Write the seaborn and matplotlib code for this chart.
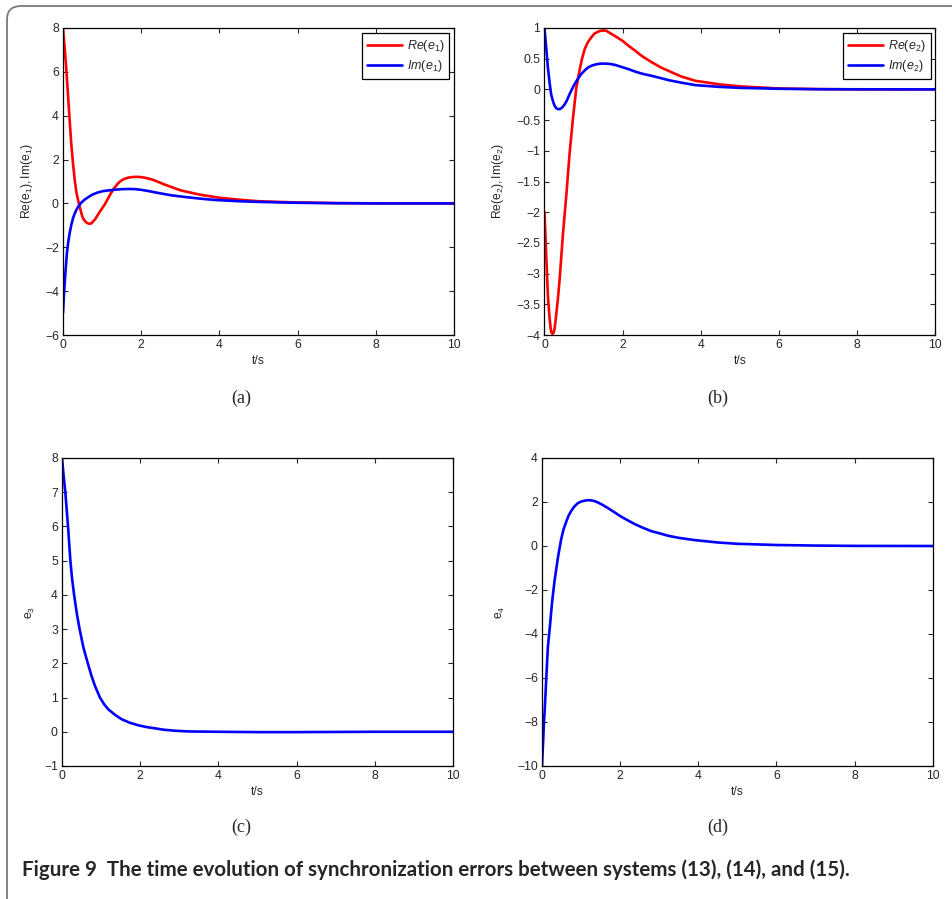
import numpy as np
import pandas as pd
import matplotlib
matplotlib.use("Agg")
import matplotlib.pyplot as plt
from matplotlib.ticker import FuncFormatter
from matplotlib.patches import FancyBboxPatch
import seaborn as sns

# ---------------- data ----------------
a_t_re = [0, 0.04, 0.085, 0.13, 0.17, 0.21, 0.255, 0.30, 0.34, 0.385, 0.425, 0.47, 0.51,
          0.56, 0.60, 0.64, 0.68, 0.72, 0.77, 0.83, 0.89, 0.97, 1.06, 1.15, 1.23, 1.31,
          1.40, 1.48, 1.57, 1.66, 1.75, 1.85, 1.95, 2.1, 2.3, 2.6, 3.0, 3.5, 4.0,
          4.5, 5.0, 5.5, 6.0, 7.0, 8.0, 10.0]
a_re = [8.0, 7.16, 6.1, 4.88, 3.8, 2.75, 1.84, 1.07, 0.54, 0.15, -0.14, -0.44, -0.68,
        -0.80, -0.87, -0.91, -0.93, -0.91, -0.83, -0.70, -0.52, -0.30, -0.07, 0.22, 0.48,
        0.70, 0.90, 1.03, 1.12, 1.17, 1.2, 1.21, 1.21, 1.17, 1.08, 0.86, 0.6, 0.4, 0.26,
        0.17, 0.1, 0.07, 0.045, 0.015, 0.005, 0.0]
a_t_im = [0, 0.026, 0.06, 0.10, 0.135, 0.17, 0.21, 0.255, 0.30, 0.34, 0.40, 0.47, 0.55,
          0.64, 0.75, 0.89, 1.02, 1.15, 1.3, 1.49, 1.7, 1.85, 2.0, 2.17, 2.34, 2.55, 2.77,
          3.0, 3.19, 3.5, 3.87, 4.5, 5.0, 6.0, 7.0, 8.0, 10.0]
a_im = [-5.0, -4.1, -3.19, -2.27, -1.75, -1.36, -1.0, -0.68, -0.46, -0.30, -0.12, 0.04, 0.17,
        0.28, 0.40, 0.50, 0.56, 0.59, 0.62, 0.65, 0.66, 0.65, 0.62, 0.57, 0.51, 0.44, 0.37,
        0.32, 0.28, 0.22, 0.16, 0.1, 0.07, 0.03, 0.01, 0.0, 0.0]

b_t_re = [0, 0.043, 0.086, 0.13, 0.17, 0.206, 0.235, 0.26, 0.30, 0.345, 0.39, 0.47, 0.56,
          0.64, 0.73, 0.815, 0.90, 0.96, 1.03, 1.11, 1.20, 1.28, 1.37, 1.44, 1.50, 1.58,
          1.67, 1.8, 2.0, 2.15, 2.32, 2.5, 2.75, 3.0, 3.18, 3.5, 3.86, 4.5, 5.0, 6.0, 7.0,
          8.0, 10.0]
b_re = [-2.0, -2.69, -3.35, -3.73, -3.95, -3.98, -3.96, -3.89, -3.67, -3.40, -3.07, -2.37,
        -1.71, -1.06, -0.46, 0.03, 0.32, 0.50, 0.66, 0.77, 0.85, 0.91, 0.94, 0.955, 0.96,
        0.955, 0.92, 0.87, 0.79, 0.71, 0.63, 0.54, 0.44, 0.35, 0.30, 0.21, 0.14, 0.08,
        0.05, 0.015, 0.005, 0.0, 0.0]
b_t_im = [0, 0.043, 0.086, 0.13, 0.17, 0.215, 0.26, 0.30, 0.34, 0.40, 0.46, 0.52, 0.58,
          0.64, 0.70, 0.77, 0.85, 0.94, 1.03, 1.12, 1.22, 1.33, 1.44, 1.55, 1.67, 1.80,
          2.0, 2.15, 2.32, 2.5, 2.75, 3.0, 3.18, 3.5, 3.86, 4.5, 5.0, 6.0, 7.0, 10.0]
b_im = [1.0, 0.68, 0.36, 0.11, -0.08, -0.19, -0.27, -0.305, -0.32, -0.32, -0.29, -0.24,
        -0.17, -0.08, 0.0, 0.085, 0.17, 0.25, 0.31, 0.36, 0.39, 0.41, 0.42, 0.42, 0.415,
        0.40, 0.36, 0.33, 0.29, 0.255, 0.22, 0.18, 0.15, 0.11, 0.07, 0.04, 0.025, 0.01,
        0.003, 0.0]

c_t = [0, 0.04, 0.085, 0.154, 0.214, 0.26, 0.31, 0.38, 0.45, 0.55, 0.66, 0.75, 0.84,
       0.97, 1.08, 1.18, 1.35, 1.52, 1.72, 1.95, 2.15, 2.38, 2.6, 2.89, 3.23, 4.0, 5.0,
       6.0, 8.0, 10.0]
c_e3 = [8.0, 7.5, 7.0, 6.0, 5.0, 4.45, 4.0, 3.45, 3.0, 2.45, 2.0, 1.65, 1.35,
        1.0, 0.8, 0.66, 0.5, 0.37, 0.27, 0.19, 0.14, 0.1, 0.06, 0.03, 0.01, 0.0, -0.01,
        -0.01, 0.0, 0.0]

d_t = [0, 0.026, 0.05, 0.068, 0.11, 0.15, 0.2, 0.255, 0.32, 0.41, 0.49, 0.55, 0.62, 0.68,
       0.75, 0.83, 0.92, 1.0, 1.09, 1.16, 1.23, 1.33, 1.43, 1.55, 1.69, 1.85, 2.0, 2.18,
       2.37, 2.58, 2.79, 3.0, 3.22, 3.5, 3.9, 4.5, 5.0, 6.0, 7.0, 8.0, 10.0]
d_e4 = [-10.0, -9.0, -8.0, -7.5, -6.0, -4.6, -3.7, -2.6, -1.6, -0.5, 0.3, 0.75, 1.1, 1.38,
        1.6, 1.8, 1.95, 2.02, 2.06, 2.08, 2.08, 2.05, 1.98, 1.87, 1.72, 1.54, 1.36, 1.18,
        1.0, 0.83, 0.68, 0.58, 0.47, 0.37, 0.27, 0.16, 0.1, 0.045, 0.02, 0.005, 0.0]

x_ticks = [0, 2, 4, 6, 8, 10]
a_yticks = [-6, -4, -2, 0, 2, 4, 6, 8]
b_yticks = [-4, -3.5, -3, -2.5, -2, -1.5, -1, -0.5, 0, 0.5, 1]
c_yticks = [-1, 0, 1, 2, 3, 4, 5, 6, 7, 8]
d_yticks = [-10, -8, -6, -4, -2, 0, 2, 4]

caption = "Figure 9  The time evolution of synchronization errors between systems (13), (14), and (15)."

# ---------------- style ----------------
sns.set_style("ticks")
FS = 8.7
plt.rcParams.update({
    "font.family": ["Liberation Sans", "DejaVu Sans"],
    "mathtext.fontset": "custom",
    "mathtext.rm": "Liberation Sans",
    "mathtext.it": "Liberation Sans:italic",
    "mathtext.bf": "Liberation Sans:bold",
    "axes.linewidth": 0.9,
    "axes.edgecolor": "black",
    "xtick.direction": "in",
    "ytick.direction": "in",
    "xtick.top": True,
    "ytick.right": True,
    "xtick.major.size": 3.5,
    "ytick.major.size": 3.5,
    "xtick.major.width": 0.8,
    "ytick.major.width": 0.8,
    "xtick.labelsize": FS,
    "ytick.labelsize": FS,
    "xtick.major.pad": 3,
    "ytick.major.pad": 3,
})

W, H = 953, 899
fig = plt.figure(figsize=(W / 100, H / 100), dpi=100)

def box(l, r, t, b):
    return [l / W, 1 - b / H, (r - l) / W, (b - t) / H]

fmt = FuncFormatter(lambda v, _: f"{v:g}".replace("-", "\u2212"))

def make_df(parts):
    frames = []
    for t, v, name in parts:
        frames.append(pd.DataFrame({"t": t, "v": v, "s": name}))
    return pd.concat(frames, ignore_index=True)

def style_ax(ax, yticks, ylab, ylab_x):
    ax.set_xlim(0, 10)
    ax.set_ylim(yticks[0], yticks[-1])
    ax.set_xticks(x_ticks)
    ax.set_yticks(yticks)
    ax.xaxis.set_major_formatter(fmt)
    ax.yaxis.set_major_formatter(fmt)
    ax.set_xlabel("t/s", fontsize=FS, labelpad=3)
    ax.set_ylabel(ylab, fontsize=FS)
    ax.yaxis.set_label_coords(ylab_x, 0.5)
    for sp in ax.spines.values():
        sp.set_visible(True)

lw = 1.9
red, blue = "#ff0000", "#0000ff"

# (a)
ax_a = fig.add_axes(box(63, 454, 28, 335))
df_a = make_df([(a_t_re, a_re, r"$Re(e_1)$"), (a_t_im, a_im, r"$Im(e_1)$")])
sns.lineplot(data=df_a, x="t", y="v", hue="s", palette=[red, blue], lw=lw,
             ax=ax_a, sort=False, estimator=None)
style_ax(ax_a, a_yticks, r"$\mathrm{Re(e_1),Im(e_1)}$", -0.072)

# (b)
ax_b = fig.add_axes(box(544.5, 935.3, 28, 335))
df_b = make_df([(b_t_re, b_re, r"$Re(e_2)$"), (b_t_im, b_im, r"$Im(e_2)$")])
sns.lineplot(data=df_b, x="t", y="v", hue="s", palette=[red, blue], lw=lw,
             ax=ax_b, sort=False, estimator=None)
style_ax(ax_b, b_yticks, r"$\mathrm{Re(e_2),Im(e_2)}$", -0.098)

# (c)
ax_c = fig.add_axes(box(62, 453, 458, 766))
sns.lineplot(x=c_t, y=c_e3, color=blue, lw=lw, ax=ax_c, sort=False, estimator=None)
style_ax(ax_c, c_yticks, r"$\mathrm{e_3}$", -0.064)

# (d)
ax_d = fig.add_axes(box(542, 932.7, 458, 766))
sns.lineplot(x=d_t, y=d_e4, color=blue, lw=lw, ax=ax_d, sort=False, estimator=None)
style_ax(ax_d, d_yticks, r"$\mathrm{e_4}$", -0.09)

for ax in (ax_a, ax_b):
    leg = ax.legend(loc="upper right", bbox_to_anchor=(0.988, 0.984), fontsize=9,
                    frameon=True, fancybox=False, edgecolor="black", framealpha=1,
                    handlelength=2.8, handletextpad=0.4, borderpad=0.4,
                    labelspacing=0.35, borderaxespad=0)
    leg.get_frame().set_linewidth(0.9)
    for line in leg.get_lines():
        line.set_linewidth(lw)

# panel labels
for txt, x, y in [("(a)", 241, 398), ("(b)", 718, 398), ("(c)", 241, 827), ("(d)", 718, 827)]:
    fig.text(x / W, 1 - y / H, txt, ha="center", va="center", fontsize=13,
             family=["Liberation Serif", "DejaVu Serif"])

# caption
fig.text(22 / W, 1 - 870 / H, caption, ha="left", va="center", fontsize=14.8,
         fontweight="bold", family=["Lato", "DejaVu Sans"])

# frame
frame = FancyBboxPatch((7 / W, -20 / H), 1.2, (H - 6 + 20) / H,
                       boxstyle="round,pad=0,rounding_size=0.015",
                       transform=fig.transFigure, fill=False, edgecolor="#7a7a7a",
                       linewidth=1.3, clip_on=False)
fig.patches.append(frame)

fig.savefig("out.png", dpi=100)
